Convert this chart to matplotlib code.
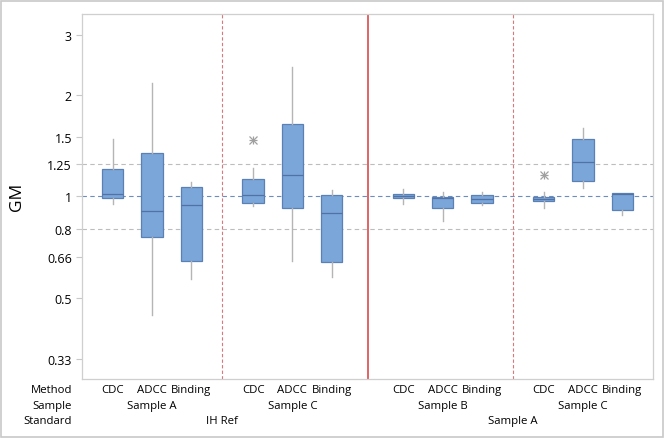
import matplotlib.pyplot as plt
from matplotlib.patches import Rectangle
from matplotlib.ticker import FixedLocator, NullLocator

plt.rcParams['font.family'] = ['Open Sans', 'DejaVu Sans']

# valores (escala log)
methods = ["CDC", "ADCC", "Binding"] * 4
samples = ["Sample A", "Sample C", "Sample B", "Sample C"]
standards = ["IH Ref", "Sample A"]

q1 = [0.990, 0.759, 0.642, 0.953, 0.925, 0.638, 0.986, 0.925, 0.955, 0.966, 1.108, 0.909]
med = [1.014, 0.903, 0.940, 1.007, 1.156, 0.891, 1.002, 0.986, 0.984, 0.982, 1.261, 1.014]
q3 = [1.207, 1.346, 1.063, 1.127, 1.633, 1.007, 1.014, 0.997, 1.007, 0.993, 1.474, 1.021]
whislo = [0.951, 0.446, 0.569, 0.934, 0.642, 0.576, 0.951, 0.847, 0.944, 0.923, 1.060, 0.882]
whishi = [1.477, 2.164, 1.100, 1.215, 2.408, 1.044, 1.049, 1.028, 1.028, 1.028, 1.592, 1.021]
outliers = [[], [], [], [1.47], [], [], [], [], [], [1.158], [], []]

yticks = [0.33, 0.5, 0.66, 0.8, 1, 1.25, 1.5, 2, 3]
ytick_labels = ["0.33", "0.5", "0.66", "0.8", "1", "1.25", "1.5", "2", "3"]

# posições das caixas (espaçamento do Minitab)
pos = [0, 1, 2, 3.57, 4.57, 5.57, 7.4, 8.4, 9.4, 10.97, 11.97, 12.97]
seps = [2.785, 6.485, 10.185]

fig = plt.figure(figsize=(6.67, 4.39), dpi=100)
ax = fig.add_axes([81.7 / 667, 1 - 380 / 439, (653 - 81.7) / 667, (380 - 14.7) / 439])

stats = []
for i in range(len(pos)):
    stats.append(dict(med=med[i], q1=q1[i], q3=q3[i], whislo=whislo[i],
                      whishi=whishi[i], fliers=outliers[i]))

ax.set_yscale('log')
ax.set_ylim(0.288, 3.47)
ax.set_xlim(-0.79, 13.75)

# linhas de referência
ax.axhline(1, color='#6C8EBF', lw=0.8, ls=(0, (4, 3)), zorder=1)
for v in [0.8, 1.25]:
    ax.axhline(v, color='#BDBDBD', lw=0.8, ls=(0, (4, 3)), zorder=1)
for x in [seps[0], seps[2]]:
    ax.axvline(x, color='#D9787C', lw=0.8, ls=(0, (3, 2)), zorder=1)
ax.axvline(seps[1], color='#D93A3A', lw=1.1, zorder=1)

ax.bxp(stats, positions=pos, widths=0.54, patch_artist=True, showcaps=False,
       boxprops=dict(facecolor='#7BA6DA', edgecolor='#5B80B6', lw=0.9),
       medianprops=dict(color='#5272A3', lw=0.9),
       whiskerprops=dict(color='#B5B5B5', lw=1.0),
       flierprops=dict(marker='x', markeredgecolor='#A0A0A0', markersize=6, mew=0.9),
       zorder=3)
# asterisco: sobrepor um '+' ao 'x'
for p, o in zip(pos, outliers):
    if o:
        ax.plot([p] * len(o), o, marker='+', ls='none', color='#A0A0A0', ms=6, mew=0.9, zorder=3)

ax.yaxis.set_major_locator(FixedLocator(yticks))
ax.yaxis.set_minor_locator(NullLocator())
ax.set_yticklabels(ytick_labels, fontsize=9)
ax.tick_params(axis='y', length=4, color='#C8C8C8', pad=3)
ax.set_xticks([])
ax.set_ylabel("GM", fontsize=12.5, labelpad=16)

for s in ax.spines.values():
    s.set_color('#CFCFCF')
    s.set_linewidth(0.9)

# rótulos do eixo x em três níveis
tr = ax.get_xaxis_transform()
fs = 8.2
rows = [-0.030, -0.073, -0.114]
for p, m in zip(pos, methods):
    ax.text(p, rows[0], m, transform=tr, ha='center', va='center', fontsize=fs)
for g, s in enumerate(samples):
    ax.text(pos[3 * g + 1], rows[1], s, transform=tr, ha='center', va='center', fontsize=fs)
ax.text(seps[0], rows[2], standards[0], transform=tr, ha='center', va='center', fontsize=fs)
ax.text(seps[2], rows[2], standards[1], transform=tr, ha='center', va='center', fontsize=fs)
for k, lab in enumerate(["Method", "Sample", "Standard"]):
    ax.text(-0.017, rows[k], lab, transform=ax.transAxes, ha='right', va='center', fontsize=fs)

# moldura externa
fig.patches.append(Rectangle((1.5 / 667, 1.5 / 439), (662.5 - 1.5) / 667, (437.5 - 1.5) / 439,
                             transform=fig.transFigure, fill=False, ec='#C8C8C8', lw=1.2))

fig.savefig("out.png", dpi=100)
